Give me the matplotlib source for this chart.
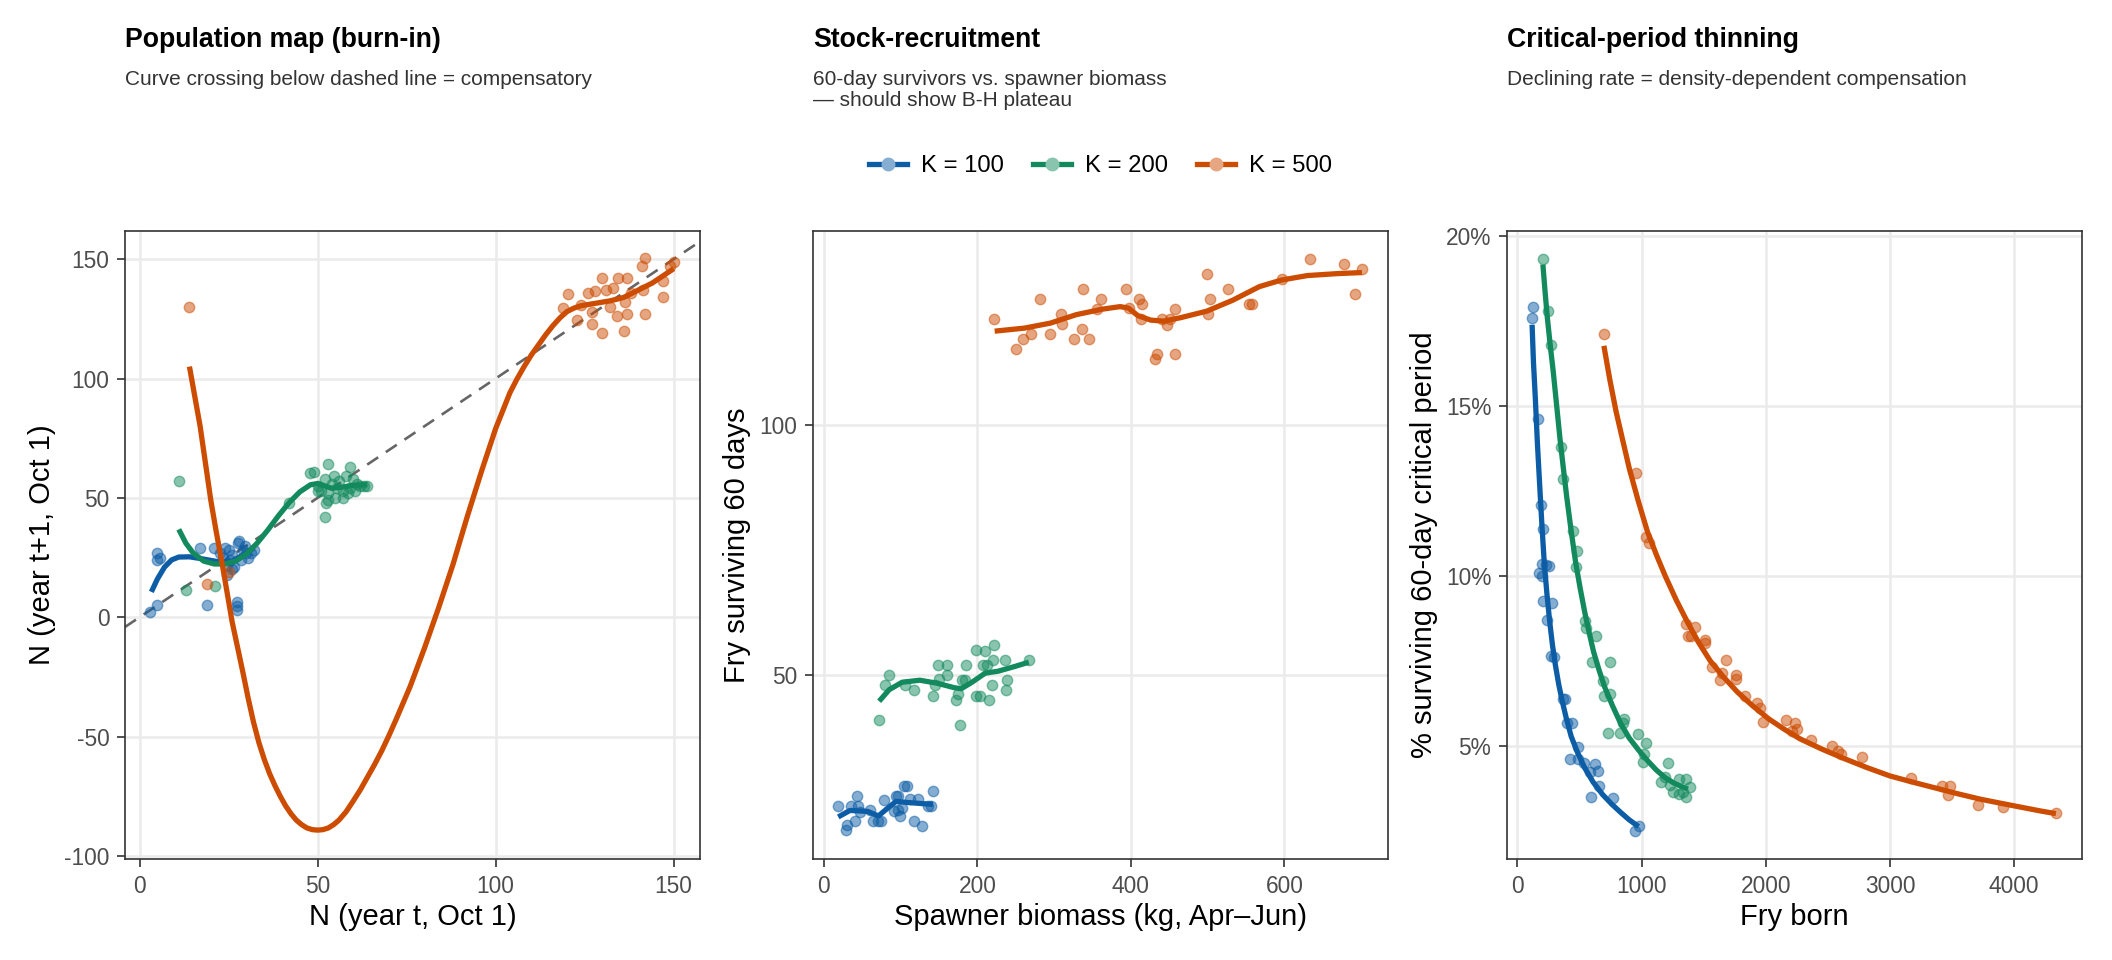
import matplotlib
matplotlib.use("Agg")
import matplotlib.pyplot as plt
from matplotlib.colors import to_rgb
from matplotlib.lines import Line2D
from matplotlib.ticker import FuncFormatter

plt.rcParams['font.family'] = ['Liberation Sans', 'DejaVu Sans']
plt.rcParams['axes.unicode_minus'] = False

# colours per carrying capacity
BLUE = "#0C5DA5"
GREEN = "#138A5E"
ORANGE = "#CC4C02"
K_LABELS = ["K = 100", "K = 200", "K = 500"]

# ---- panel 1: population map (N_t vs N_t+1) ----
p1_k100_x = [3.0, 5.0, 5.0, 5.8, 5.0, 17, 19, 21, 22.5, 23.5, 24, 24.5, 25, 25.5, 24.6,
             26, 26.5, 27.3, 27.3, 27.3, 27.5, 28, 28.5, 29, 29.5, 30, 30.5, 31.2, 32, 26]
p1_k100_y = [2.2, 5.0, 27, 24.6, 24, 29, 5, 29, 27, 25, 29, 22, 28, 24, 17.5,
             26, 21, 6.3, 3.2, 4.8, 31, 32, 24, 28, 30, 27, 25, 27, 28, 20]
p1_k200_x = [11.1, 12.9, 21.3, 42, 48, 49, 53, 59, 52, 52.4, 50, 51, 52, 53, 54, 54.5,
             55, 55.5, 56, 57, 58, 58.5, 59, 60, 60.5, 61, 62, 63, 64, 57, 53, 50]
p1_k200_y = [57, 11.2, 13, 48, 60.6, 61, 64, 63, 42, 48, 55, 53, 58, 52, 56, 59,
             50, 54, 57, 53, 59, 52, 54, 58, 53, 56, 55, 55, 55, 50, 49, 53]
p1_k500_x = [14, 19, 25, 120.2, 119, 122.8, 124, 126, 127, 127, 128, 130, 130, 131, 132,
             133, 134.5, 134, 136, 136.3, 137, 137, 138, 141, 142, 141.3, 142, 147, 147,
             149, 150]
p1_k500_y = [130, 14, 19, 135.3, 129.7, 124.4, 131, 136, 123, 128, 136.6, 142, 119, 137, 130,
             138, 142, 126, 120, 132, 142, 127, 136, 147, 150.5, 137, 127, 141, 134,
             147, 149]

p1_k100_fit_x = [3.3, 5, 7, 9, 11, 14, 17, 20, 23, 26, 29, 32]
p1_k100_fit_y = [10.6, 16, 21, 24, 25.2, 25.3, 24.6, 23.8, 23, 23.5, 26, 29]
p1_k200_fit_x = [11, 13, 15, 18, 21, 24, 27, 30, 33, 36, 39, 42, 45, 48, 50, 52, 54, 57, 60, 64]
p1_k200_fit_y = [36.8, 31, 27, 23.5, 22.3, 22.3, 23.5, 26.5, 31, 36.5, 42.5, 48, 52.5, 55.5,
                 56, 55, 54, 54.5, 55.3, 55.5]
p1_k500_fit_x = [14, 15.5, 17, 18.5, 20, 21.5, 23, 24.5, 26, 27.5, 29, 30.5, 32, 33.5, 35,
                 36.5, 38, 39.5, 41, 42.5, 44, 45.5, 47, 48.5, 50, 51.5, 53, 54.5, 56, 58,
                 60, 62, 64, 66, 68, 70, 72, 74, 76, 78, 80, 82, 84, 86, 88, 90, 92, 94, 96,
                 98, 100, 102, 104, 106, 108, 110, 112, 114, 116, 118, 120, 122, 124, 126,
                 128, 130, 132, 134, 136, 138, 140, 142, 144, 146, 148, 150]
p1_k500_fit_y = [105, 92.5, 80, 64.5, 49, 36, 24, 11, -2, -12.5, -23, -34, -44, -52.5, -59.5,
                 -65.5, -70.5, -75, -79, -82.3, -85, -86.9, -88.3, -89, -89.2, -89, -88.3,
                 -86.9, -85, -81.5, -77, -72.3, -67, -61.7, -56, -49.7, -43, -36, -29, -21,
                 -13, -4.5, 4, 13, 22, 32, 42, 51.5, 61, 70, 79, 86.5, 94, 99.8, 105, 109.8,
                 114, 118.2, 122, 125.3, 128, 129.5, 130.5, 131, 131.5, 132, 132.5, 133.2,
                 134, 135.5, 137, 138.5, 140, 142, 144, 146]

# ---- panel 2: stock-recruitment ----
p2_k100_x = [18.7, 28.4, 30, 35, 41, 43, 45, 46.5, 59.6, 63.6, 71, 73.8, 78, 90.8, 93.6,
             96.5, 99.3, 102, 105, 107.8, 112, 118, 122, 127.7, 135, 139, 142, 96.5]
p2_k100_y = [23.9, 19.0, 20.1, 23.9, 20.8, 25.9, 23.9, 22.6, 23.0, 20.8, 20.8, 20.8, 25, 22.8,
             25.9, 25.9, 21.9, 23.5, 27.9, 27.9, 25.3, 20.8, 25.3, 19.9, 23.9, 23.9, 26.9, 23]
p2_k200_x = [72, 79.5, 85, 106, 117.5, 142, 145, 149, 150, 160, 160, 172, 175, 177, 180,
             184, 185.6, 198.6, 198.6, 204, 210, 207, 213, 214.5, 219.6, 221, 220, 235.5,
             236.7, 238, 266.7]
p2_k200_y = [41, 48, 50, 48, 47.1, 45.9, 48, 52, 49.3, 52, 50, 45, 46.2, 40, 49.1,
             49.1, 52, 55, 45.9, 45.9, 54.8, 52, 52, 45, 48, 56, 53, 53,
             47.1, 49.1, 53]
p2_k500_x = [221, 250, 259, 270, 281, 295, 309, 310, 326, 336, 338, 346, 356, 361.5, 394,
             397, 410, 414, 413, 431, 434, 441, 446.6, 451, 457, 458, 499, 500.6, 503, 526,
             554.5, 558, 597, 634, 678, 692, 701]
p2_k500_y = [121.2, 115.1, 117.2, 118.2, 125.1, 118.2, 122.1, 120.2, 117.2, 119.1, 127.1,
             117.2, 123.1, 125.1, 127.1, 123.3, 125.1, 124.2, 121.2, 113.1, 114.2, 121.2,
             120, 121.2, 123.1, 114.2, 130.1, 122.2, 125.1, 127.1, 124.2, 124.2, 129.1,
             133.1, 132.2, 126.2, 131.1]

p2_k100_fit_x = [18.7, 34, 57, 71, 85, 94, 108, 125, 142]
p2_k100_fit_y = [21.7, 23, 22.8, 21.9, 23.7, 24.8, 24.6, 24.4, 24.2]
p2_k200_fit_x = [72, 85, 102, 125, 147.5, 170, 179, 193, 210, 227, 250, 267]
p2_k200_fit_y = [44.8, 47.1, 48.6, 49, 48.4, 47.5, 47.3, 48.6, 50.4, 50.8, 51.8, 52.6]
p2_k500_fit_x = [222.5, 261, 295, 329, 363, 386, 397, 409, 426, 443, 465, 499, 533, 567.5,
                 596, 630, 670, 701]
p2_k500_fit_y = [118.7, 119.3, 120.3, 122, 123.1, 123.6, 123.3, 121.8, 120.9, 120.7, 121.4,
                 122.7, 124.9, 127.6, 128.9, 129.8, 130.2, 130.4]

# ---- panel 3: critical-period survival (%) vs fry born ----
p3_k100_x = [126, 116, 163, 188, 206, 199, 228, 253, 173, 199, 206, 278, 242, 271, 296,
             369, 387, 397, 441, 488, 426, 488, 535, 622, 650, 585, 658, 596, 770, 976, 950]
p3_k100_y = [17.93, 17.60, 14.63, 12.10, 11.38, 10.37, 10.33, 10.29, 10.11, 10.0, 9.26, 9.22,
             8.72, 7.65, 7.62, 6.40, 6.40, 5.68, 5.68, 4.99, 4.63, 4.63, 4.50, 4.48, 4.28,
             4.24, 3.82, 3.52, 3.49, 2.67, 2.51]
p3_k200_x = [206, 246, 271, 354, 369, 452, 481, 470, 542, 549, 632, 603, 748, 687, 697,
             748, 734, 824, 860, 849, 968, 1037, 1012, 1019, 1210, 1156, 1185, 1229, 1254,
             1301, 1301, 1355, 1337, 1391, 1355]
p3_k200_y = [19.33, 17.80, 16.79, 13.80, 12.86, 11.34, 10.75, 10.27, 8.69, 8.47, 8.24, 7.48,
             7.48, 6.93, 6.49, 6.53, 5.39, 5.39, 5.81, 5.68, 5.35, 5.09, 4.53, 4.76, 4.50,
             3.95, 4.11, 3.87, 3.65, 4.05, 3.61, 4.05, 3.65, 3.81, 3.52]
p3_k500_x = [697, 958, 1037, 1059, 1355, 1373, 1434, 1402, 1507, 1510, 1565, 1680, 1651,
             1633, 1760, 1763, 1832, 1926, 1951, 1980, 2161, 2233, 2211, 2248, 2367, 2537,
             2584, 2602, 2771, 3173, 3415, 3487, 3469, 3711, 3910, 4336]
p3_k500_y = [17.14, 13.04, 11.16, 10.99, 8.60, 8.24, 8.50, 8.24, 8.14, 8.04, 7.32, 7.54, 7.15,
             6.95, 7.10, 6.99, 6.49, 6.27, 6.14, 5.71, 5.77, 5.68, 5.44, 5.52, 5.20, 5.0,
             4.87, 4.76, 4.70, 4.07, 3.82, 3.82, 3.56, 3.28, 3.22, 3.03]

p3_k100_fit_x = [119, 130, 145, 162, 181, 199, 217, 238, 260, 283, 307, 333, 361, 396, 434,
                 487, 542, 610, 687, 760, 831, 900, 976]
p3_k100_fit_y = [17.4, 16.3, 15.24, 13.9, 12.62, 11.45, 10.40, 9.5, 8.69, 7.98, 7.38, 6.83,
                 6.34, 5.8, 5.29, 4.8, 4.37, 3.95, 3.58, 3.3, 3.06, 2.84, 2.64]
p3_k200_fit_x = [206, 224, 242, 265, 289, 316, 343, 370, 397, 433, 470, 506, 542, 578, 614,
                 660, 705, 768, 831, 900, 976, 1048, 1120, 1190, 1265, 1320, 1373]
p3_k200_fit_y = [19.17, 18.35, 17.6, 16.8, 16.03, 15.05, 14.07, 13.2, 12.36, 11.35, 10.40,
                 9.65, 8.96, 8.35, 7.78, 7.22, 6.73, 6.18, 5.68, 5.25, 4.89, 4.58, 4.30, 4.08,
                 3.91, 3.82, 3.74]
p3_k500_fit_x = [697, 745, 795, 850, 903, 975, 1048, 1120, 1192, 1280, 1373, 1460, 1554,
                 1660, 1771, 1895, 2023, 2150, 2276, 2457, 2638, 2818, 2999, 3180, 3360,
                 3540, 3722, 3900, 4083, 4210, 4336]
p3_k500_fit_y = [16.78, 15.78, 14.85, 13.98, 13.15, 12.2, 11.31, 10.63, 10.0, 9.3, 8.63,
                 8.05, 7.51, 7.04, 6.60, 6.19, 5.81, 5.5, 5.22, 4.91, 4.63, 4.37, 4.13, 3.95,
                 3.78, 3.61, 3.45, 3.32, 3.19, 3.1, 3.02]

W, H = 2112, 960
fig = plt.figure(figsize=(W / 200, H / 200), dpi=200)

ax_w = 575 / W
ax_h = 628 / H
ax_b = (H - 859) / H
lefts = [125 / W, 813 / W, 1507 / W]
axes = [fig.add_axes([l, ax_b, ax_w, ax_h]) for l in lefts]


def style(ax):
    ax.set_facecolor("white")
    ax.grid(True, color="#EBEBEB", linewidth=0.9)
    ax.set_axisbelow(True)
    for s in ax.spines.values():
        s.set_color("#333333")
        s.set_linewidth(0.6)
    ax.tick_params(length=2.75, width=0.6, color="#333333", labelsize=8.2,
                   labelcolor="#4D4D4D", pad=2.9)


def draw(ax, pts, fits):
    for (x, y), c in zip(pts, [BLUE, GREEN, ORANGE]):
        ax.scatter(x, y, s=14, color=c, alpha=0.5, edgecolors=c, linewidths=0.5, zorder=3)
    for (x, y), c in zip(fits, [BLUE, GREEN, ORANGE]):
        ax.plot(x, y, color=c, lw=1.9, solid_capstyle="butt", solid_joinstyle="round",
                zorder=4)


# panel 1
ax = axes[0]
style(ax)
ax.axline((0, 0), slope=1, color="#666666", lw=0.95, linestyle=(0, (5, 3.5)), zorder=2)
draw(ax,
     [(p1_k100_x, p1_k100_y), (p1_k200_x, p1_k200_y), (p1_k500_x, p1_k500_y)],
     [(p1_k100_fit_x, p1_k100_fit_y), (p1_k200_fit_x, p1_k200_fit_y),
      (p1_k500_fit_x, p1_k500_fit_y)])
ax.set_xlim(-4.1, 157.4)
ax.set_ylim(-101.3, 161.8)
ax.set_xticks([0, 50, 100, 150])
ax.set_yticks([-100, -50, 0, 50, 100, 150])
ax.set_xlabel("N (year t, Oct 1)", fontsize=10.5, labelpad=2)
ax.set_ylabel("N (year t+1, Oct 1)", fontsize=10.5, labelpad=3)

# panel 2
ax = axes[1]
style(ax)
draw(ax,
     [(p2_k100_x, p2_k100_y), (p2_k200_x, p2_k200_y), (p2_k500_x, p2_k500_y)],
     [(p2_k100_fit_x, p2_k100_fit_y), (p2_k200_fit_x, p2_k200_fit_y),
      (p2_k500_fit_x, p2_k500_fit_y)])
ax.set_xlim(-14.2, 735)
ax.set_ylim(13.3, 138.7)
ax.set_xticks([0, 200, 400, 600])
ax.set_yticks([50, 100])
ax.set_xlabel("Spawner biomass (kg, Apr\u2013Jun)", fontsize=10.5, labelpad=2)
ax.set_ylabel("Fry surviving 60 days", fontsize=10.5, labelpad=3)

# panel 3
ax = axes[2]
style(ax)
draw(ax,
     [(p3_k100_x, p3_k100_y), (p3_k200_x, p3_k200_y), (p3_k500_x, p3_k500_y)],
     [(p3_k100_fit_x, p3_k100_fit_y), (p3_k200_fit_x, p3_k200_fit_y),
      (p3_k500_fit_x, p3_k500_fit_y)])
ax.set_xlim(-83, 4546)
ax.set_ylim(1.686, 20.157)
ax.set_xticks([0, 1000, 2000, 3000, 4000])
ax.set_yticks([5, 10, 15, 20])
ax.yaxis.set_major_formatter(FuncFormatter(lambda v, p: f"{v:.0f}%"))
ax.set_xlabel("Fry born", fontsize=10.5, labelpad=2)
ax.set_ylabel("% surviving 60-day critical period", fontsize=10.5, labelpad=3)

# titles and subtitles
titles = ["Population map (burn-in)", "Stock-recruitment", "Critical-period thinning"]
subtitles = ["Curve crossing below dashed line = compensatory",
             "60-day survivors vs. spawner biomass\n\u2014 should show B-H plateau",
             "Declining rate = density-dependent compensation"]
for l, t, st in zip(lefts, titles, subtitles):
    fig.text(l, 1 - 40 / H, t, fontsize=9.6, fontweight="bold", va="center", ha="left")
    fig.text(l, 1 - 70 / H, st, fontsize=7.5, color="#333333", va="top", ha="left",
             linespacing=1.15)


# shared legend above middle panel; key points drawn light like the alpha dots
def light(c):
    r, g, b = to_rgb(c)
    return (0.5 * r + 0.5, 0.5 * g + 0.5, 0.5 * b + 0.5)


handles = [Line2D([], [], color=c, lw=1.9, marker="o", markersize=4,
                  markerfacecolor=light(c), markeredgecolor=light(c))
           for c in [BLUE, GREEN, ORANGE]]
fig.legend(handles, K_LABELS, loc="center", bbox_to_anchor=(lefts[1] + ax_w / 2, 1 - 166 / H),
           ncol=3, frameon=False, fontsize=8.6, handlelength=1.6, handletextpad=0.6,
           columnspacing=1.2)

fig.savefig("out.png", dpi=200, facecolor="white")
